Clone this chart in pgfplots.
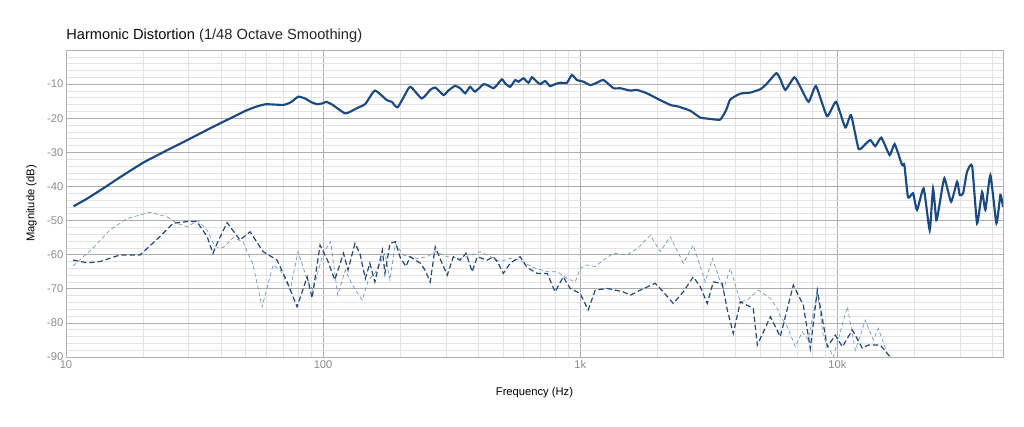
\documentclass[border=0pt]{standalone}
\usepackage{pgfplots}
\pgfplotsset{compat=1.18}
\usepackage{fontspec}
\setmainfont{Liberation Sans}
\definecolor{mainblue}{RGB}{27,73,128}
\definecolor{htwo}{RGB}{38,72,120}
\definecolor{hthree}{RGB}{115,145,185}
\definecolor{ticklab}{RGB}{140,140,140}
\begin{document}
\begin{tikzpicture}
\path[use as bounding box] (-49.5pt,-52.5pt) rectangle (718.5pt,267.75pt);
\begin{axis}[
  name=ax,
  at={(0,0)}, anchor=south west,
  scale only axis, width=702.75pt, height=230.25pt,
  xmode=log, xmin=10, xmax=44100, ymin=-90, ymax=0,
  enlargelimits=false,
  xtick={10,100,1000,10000}, xticklabels={10,100,1k,10k},
  minor xtick={20,30,40,50,60,70,80,90,200,300,400,500,600,700,800,900,2000,3000,4000,5000,6000,7000,8000,9000,20000,30000,40000},
  ytick={-90,-80,-70,-60,-50,-40,-30,-20,-10},
  yticklabels={-90,-80,-70,-60,-50,-40,-30,-20,-10},
  minor ytick={-88,-86,-84,-82,-78,-76,-74,-72,-68,-66,-64,-62,-58,-56,-54,-52,-48,-46,-44,-42,-38,-36,-34,-32,-28,-26,-24,-22,-18,-16,-14,-12,-8,-6,-4,-2},
  grid=both,
  major grid style={color=black!32, line width=0.5pt},
  minor grid style={color=black!11, line width=0.4pt},
  major tick length=0pt, minor tick length=0pt,
  axis line style={color=black!30, line width=0.6pt},
  tick label style={font=\fontsize{8.4}{9}\selectfont, color=ticklab},
  yticklabel style={xshift=1.5pt},
  xticklabel style={yshift=1pt},
  xlabel={Frequency (Hz)}, ylabel={Magnitude (dB)},
  label style={font=\fontsize{8.4}{9}\selectfont, color=black},
  xlabel style={yshift=-7pt},
  ylabel style={yshift=1pt},
  clip=true,
]
% third harmonic (light, thin dashes)
\addplot[hthree, line width=0.5pt, dash pattern=on 3pt off 2pt] table {
10.65 -63.3
12.7 -58.2
14.8 -52.8
17.3 -49.4
21.2 -47.6
24.7 -48.9
27.0 -50.8
29.6 -51.8
32.6 -50
35.4 -52.8
38.0 -57.7
40.8 -58
44.7 -55
48.8 -56.2
53.4 -63
57.9 -75.3
63.9 -63
68.1 -64.5
74.4 -70.4
79.9 -59.1
86.7 -67.4
91.4 -70.4
100 -59.6
107 -56.2
114 -71.9
122 -64.5
130 -68.9
142 -73.3
150 -67.4
159 -65.5
174 -59.6
182 -67.4
191 -56.7
205 -60.1
232 -61.1
254 -60.6
273 -59.1
304 -60.6
341 -61.1
380 -60.1
408 -59.1
447 -60.6
488 -62
534 -61.1
584 -61.6
656 -63.8
744 -65
814 -65
890 -67
956 -68
1000 -64
1065 -63
1144 -63.5
1229 -61.6
1344 -59.6
1523 -60.1
1667 -58.2
1873 -54.3
2047 -59.1
2240 -54.7
2517 -62.5
2753 -57.2
3064 -68
3264 -61.1
3600 -70.4
3835 -64
4195 -73.8
4465 -73.3
4928 -70.4
5488 -72.8
5842 -75.8
6000 -78
6389 -81.1
6866 -87
7308 -82.6
7713 -85
8358 -70.9
8822 -84
9647 -90
10940 -75.3
11750 -88
12850 -79.2
13800 -85
14430 -81.6
15650 -89
16080 -90
};
% second harmonic (darker, longer dashes)
\addplot[htwo, line width=0.9pt, dash pattern=on 4pt off 2.2pt] table {
10.65 -61.6
12.1 -62.4
13.6 -62.0
16.2 -60.1
19.4 -60.1
23.2 -54.7
26.1 -50.8
29.6 -50.3
32.3 -50.3
35.4 -54.7
37.3 -59.6
38.7 -56.7
42.3 -50.6
47.5 -55.7
52.0 -53.3
58.4 -59.1
66.2 -61.6
72.4 -67.9
79.2 -75.3
86.7 -66.5
90.6 -72.7
97.3 -57.2
104 -61.6
111 -67.4
120 -59.6
125 -64.5
133 -56.7
139 -59.6
146 -67
152 -62.5
159 -68
170 -58.7
174 -65.5
182 -56.7
191 -56.2
199 -60.6
210 -63.5
218 -60.6
239 -62.5
249 -64.5
261 -68
273 -57.7
290 -62.5
304 -66
321 -60.6
341 -61.6
360 -59.6
380 -65
398 -60.6
435 -61.6
459 -60.6
480 -62.5
502 -65.5
534 -62.5
584 -60.6
622 -63.8
681 -65.5
744 -65.5
799 -70.9
859 -66.5
914 -69.9
1000 -71.4
1074 -76.2
1144 -70.4
1274 -69.9
1470 -70.9
1565 -71.9
1712 -70.4
1958 -68.4
2104 -70.9
2301 -74.3
2517 -70.9
2753 -66.5
2931 -69.4
3120 -74.3
3293 -68
3568 -68.4
3733 -76.2
3939 -83.1
4195 -73.8
4712 -75.8
4884 -86.5
5488 -78.2
6000 -84
6744 -68.9
7374 -74.8
7852 -87.5
8358 -70.4
9144 -87
9822 -83.6
10460 -87
11440 -82.1
12510 -87.4
13200 -86.5
14700 -86.5
15650 -89
16080 -90
};
% fundamental
\addplot[mainblue, line width=1.6pt, smooth, tension=0.3] table {
10.7 -45.8
12 -43.7
14 -40.5
16 -37.6
20 -33
25 -29.2
30 -26.2
35 -23.6
40 -21.4
45 -19.5
50 -17.8
55 -16.6
60 -15.9
70 -16.1
75 -15.3
80 -13.7
85 -14.2
90 -15.3
95 -15.9
100 -15.6
103 -15.2
109 -16.1
122 -18.6
135 -17.1
146 -15.8
159 -11.9
177 -14.7
185 -15.2
195 -16.8
215 -11.2
221 -11.0
242 -14.2
261 -11.7
273 -11.0
294 -13.2
307 -11.9
326 -10.5
341 -11.2
357 -12.7
373 -10.8
390 -12.2
421 -10.0
440 -10.5
460 -11.2
474 -10.3
496 -8.6
511 -9.8
534 -10.8
559 -8.8
575 -9.3
602 -8.3
629 -9.6
649 -8.0
678 -9.3
699 -10.0
731 -9.1
764 -10.6
799 -10.0
836 -9.6
888 -9.6
928 -7.3
971 -8.8
1030 -9.3
1094 -10.3
1161 -9.6
1232 -8.8
1348 -11.2
1431 -11.2
1565 -11.9
1662 -11.7
1818 -12.7
1988 -14.2
2240 -16.1
2413 -16.6
2679 -17.8
2931 -19.8
3205 -20.2
3505 -20.4
3700 -17.5
3835 -14.5
4195 -12.8
4587 -12.5
5018 -11.5
5300 -10
5790 -6.8
6000 -8.5
6277 -11.7
6805 -8.0
7178 -10.8
7732 -15.2
8262 -10.6
9119 -19.4
9883 -15.2
10740 -22.7
11310 -19.1
12100 -29.0
12850 -27.6
13440 -26.4
14060 -28.2
14830 -25.7
15980 -30.8
16710 -27.6
17860 -33.7
18230 -33.7
18840 -43.2
19710 -42.0
20420 -46.9
21670 -40.6
22870 -52.8
23570 -40.6
24280 -49.9
25010 -45.0
26090 -37.6
27700 -44.5
29230 -38.6
29910 -42.5
30840 -42.0
31960 -35.7
33440 -34.0
34960 -50.8
36560 -41.6
37670 -46.9
39390 -36.7
41570 -50.8
43080 -42.5
44100 -46.0
};
\end{axis}
\node[anchor=base west, font=\fontsize{11}{13}\selectfont, inner sep=0pt] at ([yshift=7.5pt]ax.north west) {\textcolor{black!95}{Harmonic Distortion} \textcolor{black!85}{(1/48 Octave Smoothing)}};
\end{tikzpicture}
\end{document}
